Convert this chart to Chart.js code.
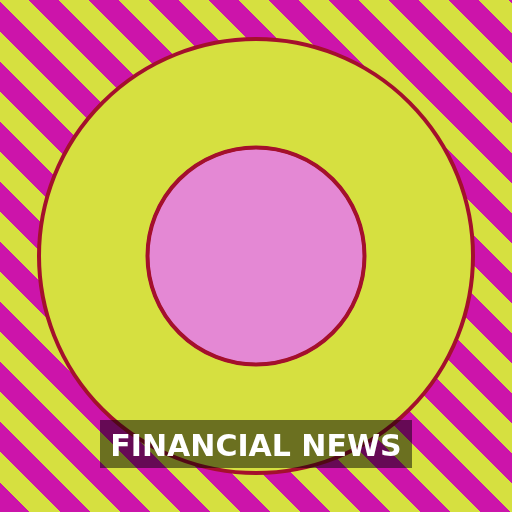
<!DOCTYPE html>
<html>
<head>
<meta charset="utf-8">
<script src="https://cdn.jsdelivr.net/npm/chart.js@4.4.0/dist/chart.umd.min.js"></script>
<style>
  html, body { margin: 0; padding: 0; }
  #wrap {
    position: relative;
    width: 512px;
    height: 512px;
    overflow: hidden;
    background: repeating-linear-gradient(45deg, #cc14aa 0px, #cc14aa 21.21px, #d6e040 21.21px, #d6e040 42.43px);
  }
  #chart { position: absolute; left: 0; top: 0; }
  #label {
    position: absolute;
    left: 100px;
    top: 420px;
    width: 312px;
    height: 40px;
    padding-top: 8px;
    line-height: 45px;
    background: rgba(0, 0, 0, 0.5);
    color: #fff;
    font: bold 30px "DejaVu Sans", sans-serif;
    text-align: center;
    white-space: nowrap;
  }
</style>
</head>
<body>
<div id="wrap">
  <canvas id="chart" width="512" height="512"></canvas>
  <div id="label"></div>
</div>
<script>
// one category, two rings: inner disc and outer ring
const titleText = "FINANCIAL NEWS";
const categories = ["Financial News"];
const outerValues = [100];
const innerValues = [100];

const ringColor = "#d6e040";
const coreColor = "#e488d4";
const edgeColor = "#a4102c";
const edgeWidths = [4, 3];

document.getElementById("label").textContent = titleText;

// full-circle slices leave a seam line when stroked, so draw the rims round the arcs here
const rimPlugin = {
  id: "rims",
  afterDatasetsDraw(chart) {
    const ctx = chart.ctx;
    ctx.save();
    ctx.strokeStyle = edgeColor;
    chart.data.datasets.forEach((ds, i) => {
      const meta = chart.getDatasetMeta(i);
      meta.data.forEach((arc) => {
        ctx.lineWidth = edgeWidths[i];
        ctx.beginPath();
        ctx.arc(arc.x, arc.y, arc.outerRadius, 0, Math.PI * 2);
        ctx.stroke();
        if (arc.innerRadius > 0) {
          ctx.beginPath();
          ctx.arc(arc.x, arc.y, arc.innerRadius, 0, Math.PI * 2);
          ctx.stroke();
        }
      });
    });
    ctx.restore();
  },
};

new Chart(document.getElementById("chart"), {
  type: "pie",
  data: {
    labels: categories,
    datasets: [
      {
        label: "outer",
        data: outerValues,
        backgroundColor: ringColor,
        borderWidth: 0,
      },
      {
        label: "inner",
        data: innerValues,
        backgroundColor: coreColor,
        borderWidth: 0,
      },
    ],
  },
  options: {
    responsive: false,
    animation: false,
    layout: { padding: 39 },
    plugins: {
      legend: { display: false },
      tooltip: { enabled: false },
      title: { display: false },
    },
  },
  plugins: [rimPlugin],
});
</script>
</body>
</html>
